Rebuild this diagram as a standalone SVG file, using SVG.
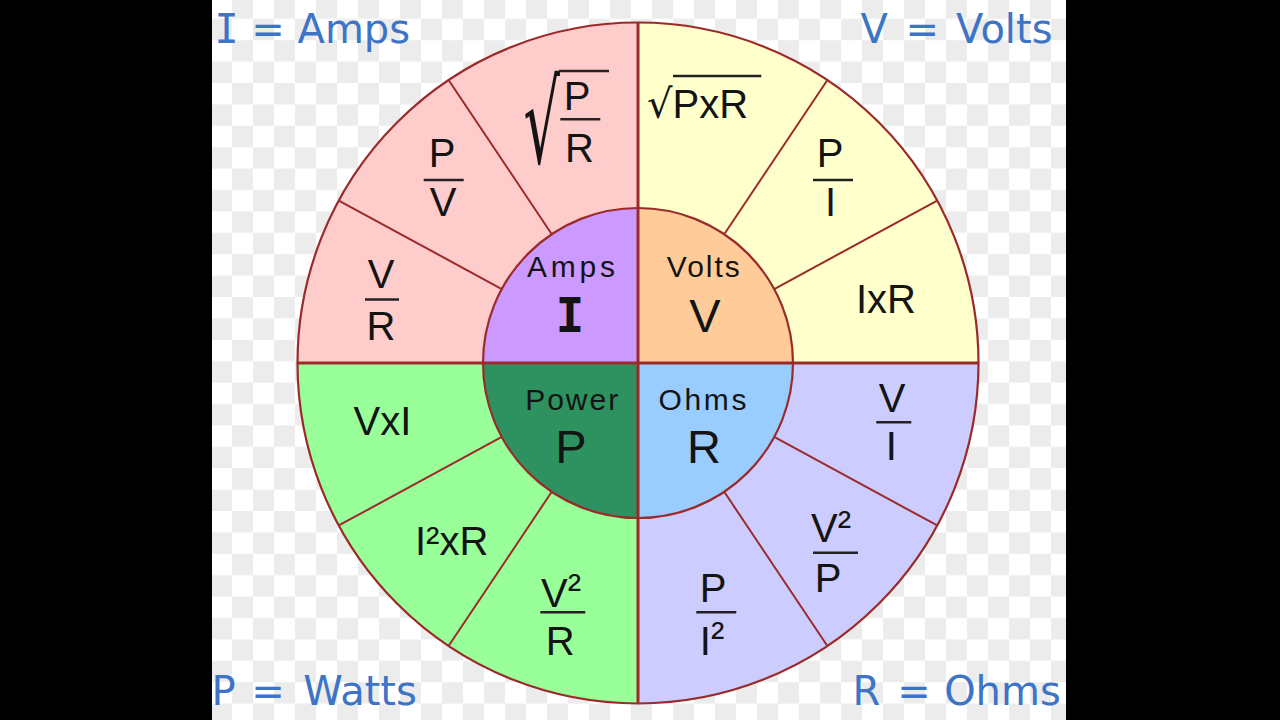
<svg xmlns="http://www.w3.org/2000/svg" width="1280" height="720" viewBox="0 0 1280 720">
  <style>
    .seg { font-family: "Liberation Sans", Arial, sans-serif; font-size: 40px; fill: #141414; }
    .mid { text-anchor: middle; }
    .corner { font-family: "DejaVu Sans", Verdana, sans-serif; font-size: 40px; fill: #3d74c6; }
    .lbl { font-family: "Liberation Sans", Arial, sans-serif; font-size: 30px; fill: #141414; text-anchor: middle; }
    .big { font-family: "Liberation Sans", Arial, sans-serif; font-size: 47px; fill: #141414; text-anchor: middle; }
    .bar { stroke: #222; stroke-width: 2.5; }
    .div { stroke: #9b2a2a; stroke-width: 2; fill: none; }
    .axis { stroke: #9b2a2a; stroke-width: 3; }
    .ring { stroke: #9b2a2a; stroke-width: 2.2; fill: none; }
  </style>
  <defs>
    <pattern id="checker" patternUnits="userSpaceOnUse" x="211" y="-2.6" width="42" height="42.8">
      <rect width="42" height="42.8" fill="#ffffff"/>
      <rect x="21" y="0" width="21" height="21.4" fill="#ececec"/>
      <rect x="0" y="21.4" width="21" height="21.4" fill="#ececec"/>
    </pattern>
  </defs>

  <rect x="0" y="0" width="1280" height="720" fill="#000"/>
  <rect x="212" y="0" width="854" height="720" fill="url(#checker)"/>

  <!-- Amps quadrant -->
  <g id="amps">
    <path d="M638 363 L297.5 363 A340.5 340.5 0 0 1 638 22.5 Z" fill="#ffcccc"/>
    <path d="M638 363 L483 363 A155 155 0 0 1 638 208 Z" fill="#cc99ff"/>
    <text class="seg mid" x="381" y="288.3">V</text>
    <line class="bar" x1="365" y1="299.5" x2="399" y2="299.5"/>
    <text class="seg mid" x="381" y="340">R</text>
    <text class="seg mid" x="442" y="166.7">P</text>
    <line class="bar" x1="423.7" y1="180" x2="463.7" y2="180"/>
    <text class="seg mid" x="443" y="216">V</text>
    <text font-family="DejaVu Sans, sans-serif" font-size="52" fill="#141414" transform="translate(523.5 162.5) scale(1.1 2.19)">√</text>
    <line class="bar" x1="559" y1="71" x2="609" y2="71"/>
    <text class="seg mid" x="577" y="110">P</text>
    <line class="bar" x1="560.3" y1="119.3" x2="600.3" y2="119.3"/>
    <text class="seg mid" x="579.5" y="161.7">R</text>
    <text class="lbl" x="571" y="277" textLength="88">Amps</text>
    <text x="570" y="331.7" font-family="DejaVu Sans Mono, monospace" font-size="48" font-weight="bold" fill="#141414" text-anchor="middle">I</text>
  </g>

  <!-- Volts quadrant -->
  <g id="volts">
    <path d="M638 363 L638 22.5 A340.5 340.5 0 0 1 978.5 363 Z" fill="#ffffcc"/>
    <path d="M638 363 L638 208 A155 155 0 0 1 793 363 Z" fill="#ffcc99"/>
    <text class="seg" x="647" y="118.3"><tspan font-family="DejaVu Sans, sans-serif">√</tspan>PxR</text>
    <line class="bar" x1="673" y1="76" x2="761.3" y2="76"/>
    <text class="seg mid" x="830" y="166.7">P</text>
    <line class="bar" x1="813" y1="180" x2="853" y2="180"/>
    <text class="seg mid" x="830.5" y="216">I</text>
    <text class="seg" x="856" y="313.3">IxR</text>
    <text class="lbl" x="703.3" y="277.3" textLength="73">Volts</text>
    <text class="big" x="705" y="331.7">V</text>
  </g>

  <!-- Power quadrant -->
  <g id="power">
    <path d="M638 363 L638 703.5 A340.5 340.5 0 0 1 297.5 363 Z" fill="#99ff99"/>
    <path d="M638 363 L638 518 A155 155 0 0 1 483 363 Z" fill="#2e9160"/>
    <text class="seg" x="353.5" y="435">VxI</text>
    <text class="seg" x="415" y="555">I²xR</text>
    <text class="seg mid" x="561" y="606.7">V<tspan dy="-5">²</tspan></text>
    <line class="bar" x1="540.3" y1="612.3" x2="585.3" y2="612.3"/>
    <text class="seg mid" x="560.3" y="655">R</text>
    <text class="lbl" x="571.7" y="410" textLength="93">Power</text>
    <text class="big" x="571" y="463.3">P</text>
  </g>

  <!-- Ohms quadrant -->
  <g id="ohms">
    <path d="M638 363 L978.5 363 A340.5 340.5 0 0 1 638 703.5 Z" fill="#ccccff"/>
    <path d="M638 363 L793 363 A155 155 0 0 1 638 518 Z" fill="#99ccff"/>
    <text class="seg mid" x="892" y="411.7">V</text>
    <line class="bar" x1="876.3" y1="422.3" x2="911.3" y2="422.3"/>
    <text class="seg mid" x="891.3" y="460">I</text>
    <text class="seg mid" x="831" y="541.7">V<tspan dy="-3">²</tspan></text>
    <line class="bar" x1="813" y1="552.7" x2="858" y2="552.7"/>
    <text class="seg mid" x="828" y="591.7">P</text>
    <text class="seg mid" x="713" y="601.7">P</text>
    <line class="bar" x1="696.3" y1="612.3" x2="736.3" y2="612.3"/>
    <text class="seg mid" x="712" y="655">I<tspan dy="-5">²</tspan></text>
    <text class="lbl" x="702.5" y="410" textLength="88">Ohms</text>
    <text class="big" x="704" y="463.3">R</text>
  </g>

  <!-- divider lines -->
  <g id="connectors">
    <line class="div" x1="501.78" y1="289.04" x2="338.76" y2="200.53"/>
    <line class="div" x1="551.77" y1="234.2" x2="448.58" y2="80.05"/>
    <line class="div" x1="724.23" y1="234.2" x2="827.42" y2="80.05"/>
    <line class="div" x1="774.22" y1="289.04" x2="937.24" y2="200.53"/>
    <line class="div" x1="774.22" y1="436.96" x2="937.24" y2="525.47"/>
    <line class="div" x1="724.23" y1="491.8" x2="827.42" y2="645.95"/>
    <line class="div" x1="501.78" y1="436.96" x2="338.76" y2="525.47"/>
    <line class="div" x1="551.77" y1="491.8" x2="448.58" y2="645.95"/>
    <line class="axis" x1="297.5" y1="363" x2="978.5" y2="363"/>
    <line class="axis" x1="638" y1="22.5" x2="638" y2="703.5"/>
    <circle class="ring" cx="638" cy="363" r="155"/>
    <circle class="ring" cx="638" cy="363" r="340.5"/>
  </g>

  <!-- corner legends -->
  <g id="legend">
    <text class="corner" x="214.5" y="43.3"><tspan font-family="DejaVu Sans Mono, monospace">I</tspan> = Amps</text>
    <text class="corner" x="860.5" y="43.3">V<tspan dx="5"> =</tspan><tspan dx="4.3"> Volts</tspan></text>
    <text class="corner" x="211.4" y="705">P<tspan dx="3"> =</tspan><tspan dx="5.7"> Watts</tspan></text>
    <text class="corner" x="852.4" y="705">R<tspan dx="4.4"> =</tspan><tspan dx="0.6"> Ohms</tspan></text>
  </g>
</svg>
